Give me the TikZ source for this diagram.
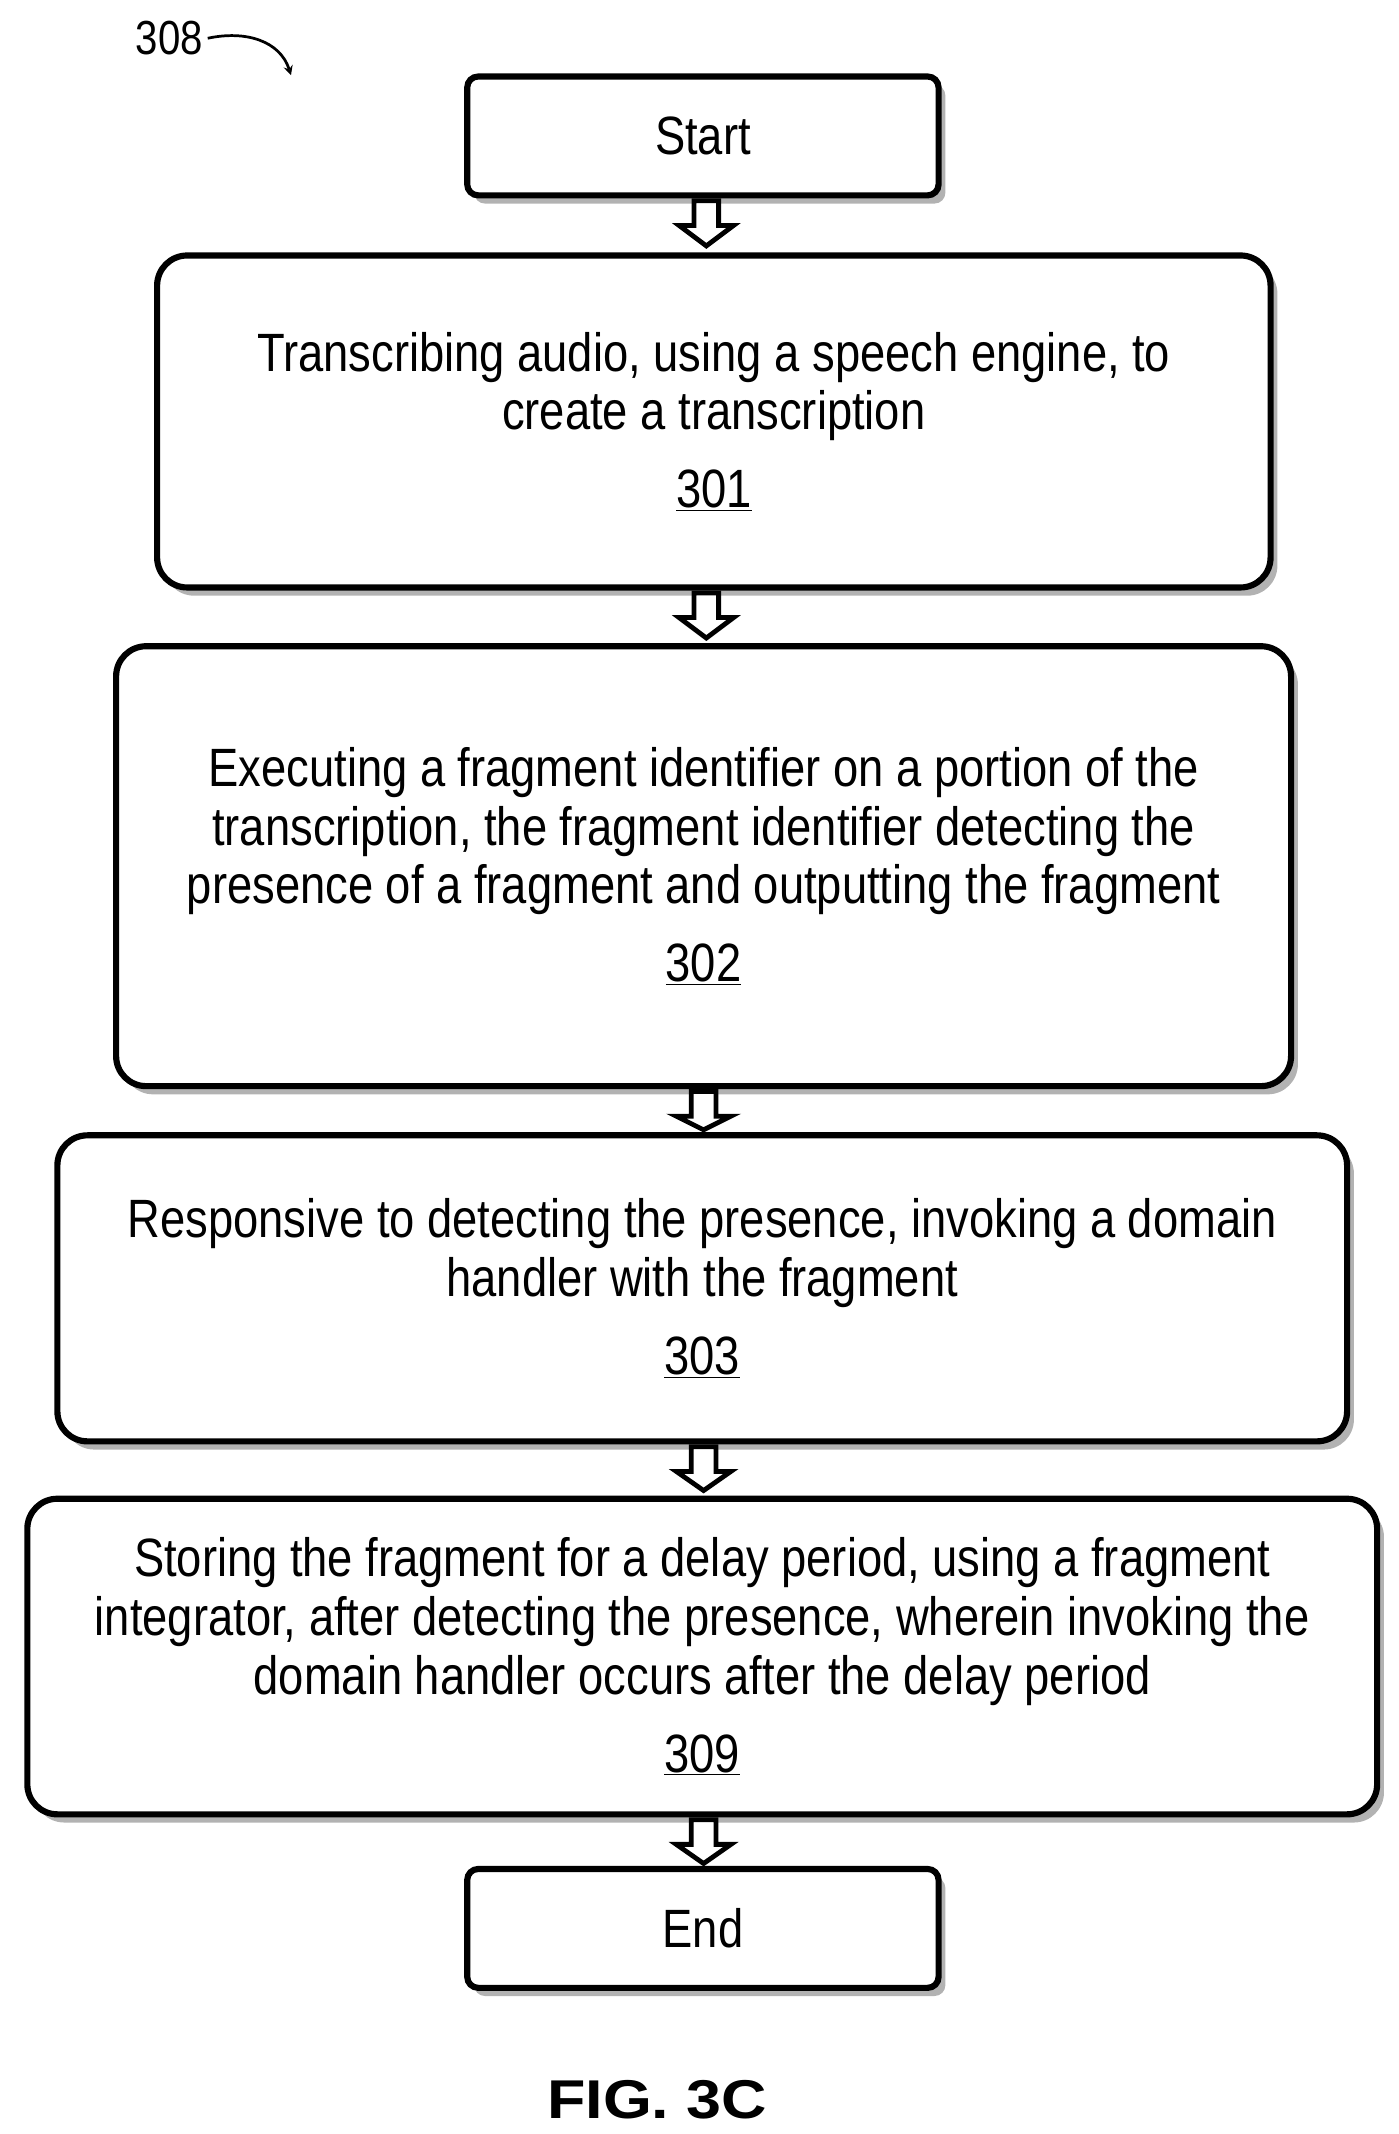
\documentclass[tikz,border=0pt]{standalone}
\usepackage{fontspec}
\setmainfont{Liberation Sans}[FakeStretch=0.84]
\newfontfamily\figfont{Liberation Sans}[FakeStretch=1.15]
\begin{document}
\begin{tikzpicture}[x=1pt,y=-1pt,
  box/.style={draw=black,line width=4.5pt,rounded corners=22pt,fill=white},
  sbox/.style={draw=black,line width=4.5pt,rounded corners=8pt,fill=white},
  shad/.style={fill=black!30,rounded corners=22pt},
  txt/.style={align=center,font=\fontsize{39.5}{43}\selectfont},
  harrow/.style={draw=black,line width=3.5pt,fill=white,line join=miter}]
\useasboundingbox (0,0) rectangle (1024,1562);
\newcommand{\flowbox}[6]{%
  \fill[shad] (#2+5,#3+6) rectangle (#4+5,#5+6);
  \draw[box] (#2,#3) rectangle (#4,#5);
  \node[txt] (#1) at ({(#2+#4)/2},{(#3+#5)/2}) {#6};}
\newcommand{\harr}[3]{%
  \draw[harrow] (#1-9,#2) -- (#1+9,#2) -- (#1+9,#2+18) -- (#1+20,#2+18) -- (#1,#3) -- (#1-20,#2+18) -- (#1-9,#2+18) -- cycle;}
% Start
\fill[black!30,rounded corners=8pt] (347,62) rectangle (692,149);
\draw[sbox] (342,56) rectangle (687,143);
\node[txt] (start) at (514.5,99.5) {Start};
\flowbox{b301}{115}{187}{930}{430}{Transcribing audio, using a speech engine, to\\create a transcription\\[14pt]\underline{301}}
\flowbox{b302}{85}{473}{945}{795}{Executing a fragment identifier on a portion of the\\transcription, the fragment identifier detecting the\\presence of a fragment and outputting the fragment\\[14pt]\underline{302}}
\flowbox{b303}{42}{831}{986}{1055}{Responsive to detecting the presence, invoking a domain\\handler with the fragment\\[14pt]\underline{303}}
\flowbox{b309}{20}{1097}{1008}{1328}{Storing the fragment for a delay period, using a fragment\\integrator, after detecting the presence, wherein invoking the\\domain handler occurs after the delay period\\[14pt]\underline{309}}
\fill[black!30,rounded corners=8pt] (347,1374) rectangle (692,1461);
\draw[sbox] (342,1368) rectangle (687,1455);
\node[txt] (end) at (514.5,1411.5) {End};
\harr{517}{147}{180}
\harr{517}{434}{467}
\harr{515}{799}{827}
\harr{515}{1059}{1091}
\harr{515}{1332}{1364}
\node[font=\fontsize{35}{40}\selectfont] (l308) at (124,28) {308};
\coordinate (a308) at (213,55);
\draw[line width=2pt,-stealth] (l308.east) .. controls (180,22) and (205,30) .. (a308);
\node[font=\figfont\bfseries\fontsize{40}{48}\selectfont] (fig) at (481,1537) {FIG. 3C};
\end{tikzpicture}
\end{document}
